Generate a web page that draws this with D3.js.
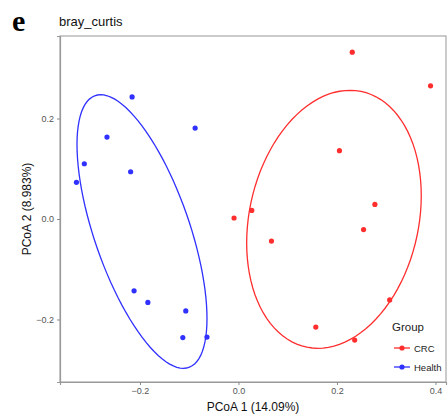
<!DOCTYPE html>
<html>
<head>
<meta charset="utf-8">
<script src="https://cdn.jsdelivr.net/npm/d3@7"></script>
<style>
  body { margin: 0; background: #fff; }
  svg { display: block; font-family: Arial, "Liberation Sans", sans-serif; }
</style>
</head>
<body>
<svg id="chart" width="448" height="417"></svg>
<script>
// PCoA coordinates
const crcX = [0.231, 0.390, 0.205, 0.277, -0.009, 0.027, 0.067, 0.254, 0.307, 0.157, 0.236];
const crcY = [0.332, 0.265, 0.136, 0.029, 0.002, 0.017, -0.044, -0.021, -0.161, -0.215, -0.241];
const healthX = [-0.216, -0.088, -0.267, -0.313, -0.219, -0.329, -0.212, -0.184, -0.107, -0.113, -0.064];
const healthY = [0.243, 0.181, 0.163, 0.110, 0.094, 0.073, -0.143, -0.166, -0.183, -0.236, -0.235];

const groups = ['CRC', 'Health'];
const groupColors = ['#ff2e2e', '#3030ff'];
const xTicks = [-0.2, 0.0, 0.2, 0.4];
const yTicks = [-0.2, 0.0, 0.2];

// ellipse shape per group (center and shape matrix, data units)
const ellipseCx = [0.1939, -0.1959];
const ellipseCy = [-0.0006, -0.0249];
const ellipseSxx = [0.03142, 0.017419];
const ellipseSxy = [0.00834, -0.02283];
const ellipseSyy = [0.065904, 0.074113];

const svg = d3.select('#chart');
const margin = { left: 60, top: 36, right: 2, bottom: 35 };
const W = 448, H = 417;

const x = d3.scaleLinear().domain([-0.3624, 0.4214]).range([margin.left, W - margin.right]);
const y = d3.scaleLinear().domain([-0.3244, 0.3642]).range([H - margin.bottom, margin.top]);

function ellipsePath(i, segments = 100) {
  // cholesky of the shape matrix, applied to a unit circle
  const l11 = Math.sqrt(ellipseSxx[i]);
  const l21 = ellipseSxy[i] / l11;
  const l22 = Math.sqrt(ellipseSyy[i] - l21 * l21);
  const out = d3.range(segments + 1).map(k => {
    const t = k * 2 * Math.PI / segments;
    const u = Math.cos(t), v = Math.sin(t);
    return [ellipseCx[i] + u * l11, ellipseCy[i] + u * l21 + v * l22];
  });
  return d3.line().x(d => x(d[0])).y(d => y(d[1]))(out);
}

const series = [
  { name: 'CRC', pts: crcX.map((v, i) => [v, crcY[i]]) },
  { name: 'Health', pts: healthX.map((v, i) => [v, healthY[i]]) }
];
const color = d3.scaleOrdinal().domain(groups).range(groupColors);

// panel border
svg.append('rect')
  .attr('x', margin.left).attr('y', margin.top)
  .attr('width', W - margin.right - margin.left)
  .attr('height', H - margin.bottom - margin.top)
  .attr('fill', 'none').attr('stroke', '#a8a8a8').attr('stroke-width', 1.2);

// axes
const fmt = d => d3.format('.1f')(d).replace('-', '\u2212');
const xAxis = svg.append('g')
  .attr('transform', `translate(0,${H - margin.bottom})`)
  .call(d3.axisBottom(x).tickValues(xTicks).tickSize(3).tickPadding(3).tickFormat(fmt));
const yAxis = svg.append('g')
  .attr('transform', `translate(${margin.left},0)`)
  .call(d3.axisLeft(y).tickValues(yTicks).tickSize(3).tickPadding(3).tickFormat(fmt));
[xAxis, yAxis].forEach(g => {
  g.select('.domain').attr('stroke', '#999').attr('stroke-width', 1.2);
  g.selectAll('.tick line').attr('stroke', '#8a8a8a');
  g.selectAll('.tick text').attr('fill', '#555').attr('font-size', 9);
});

// ellipses
svg.append('g').selectAll('path')
  .data(series).join('path')
  .attr('d', (d, i) => ellipsePath(i))
  .attr('fill', 'none')
  .attr('stroke', d => color(d.name))
  .attr('stroke-width', 1.3);

// points
svg.append('g').selectAll('g')
  .data(series).join('g')
  .attr('fill', d => color(d.name))
  .selectAll('circle')
  .data(d => d.pts).join('circle')
  .attr('cx', d => x(d[0])).attr('cy', d => y(d[1]))
  .attr('r', 2.6);

// labels
svg.append('text').attr('x', 12).attr('y', 31)
  .attr('font-family', '"Liberation Serif", "Times New Roman", serif')
  .attr('font-weight', 'bold').attr('font-size', 30).text('e');
svg.append('text').attr('x', 59).attr('y', 26)
  .attr('font-size', 13).attr('fill', '#111').text('bray_curtis');
svg.append('text').attr('x', (margin.left + W - margin.right) / 2).attr('y', 411)
  .attr('text-anchor', 'middle').attr('font-size', 12).attr('fill', '#111')
  .text('PCoA 1 (14.09%)');
svg.append('text')
  .attr('transform', `translate(31,${(margin.top + H - margin.bottom) / 2}) rotate(-90)`)
  .attr('text-anchor', 'middle').attr('font-size', 12).attr('fill', '#111')
  .text('PCoA 2 (8.983%)');

// legend
const legend = svg.append('g').attr('transform', 'translate(392,0)');
legend.append('text').attr('x', 0).attr('y', 331)
  .attr('font-size', 11.5).attr('fill', '#222').text('Group');
const item = legend.selectAll('g.item').data(groups).join('g')
  .attr('class', 'item')
  .attr('transform', (d, i) => `translate(0,${348 + i * 19})`);
item.append('line').attr('x1', 2).attr('x2', 18)
  .attr('stroke', d => color(d)).attr('stroke-width', 1.3);
item.append('circle').attr('cx', 10).attr('r', 2.6)
  .attr('fill', d => color(d));
item.append('text').attr('x', 22).attr('y', 3.5)
  .attr('font-size', 9.5).attr('fill', '#222').text(d => d);
</script>
</body>
</html>
